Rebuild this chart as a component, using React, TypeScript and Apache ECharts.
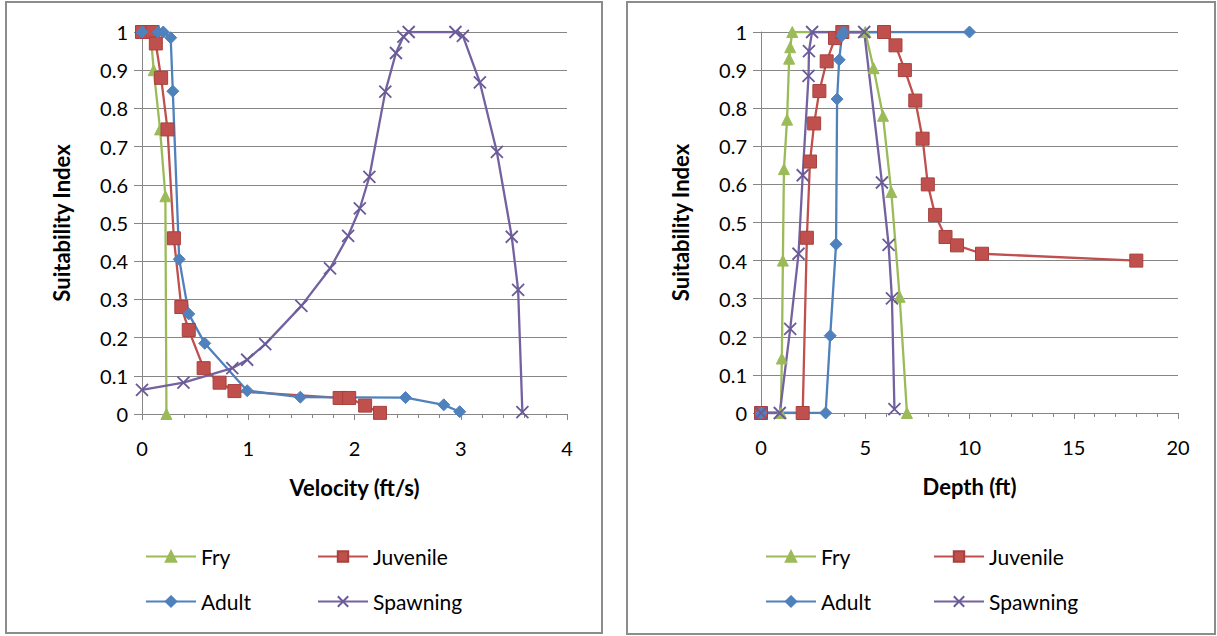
import React, { useEffect, useRef } from "react";
import * as echarts from "echarts";

// ---- Velocity chart data [velocity ft/s, suitability] ----
const velFry = [[0, 1], [0.08, 1], [0.11, 0.9], [0.17, 0.745], [0.22, 0.57], [0.23, 0]];
const velJuvenile = [[0, 1], [0.1, 1], [0.13, 0.97], [0.18, 0.88], [0.24, 0.745], [0.3, 0.46], [0.37, 0.28], [0.44, 0.22], [0.58, 0.12], [0.73, 0.082], [0.87, 0.06], [1.86, 0.042], [1.95, 0.042], [2.1, 0.022], [2.24, 0.003]];
const velAdult = [[0, 1], [0.15, 1], [0.2, 1], [0.27, 0.985], [0.29, 0.845], [0.35, 0.405], [0.44, 0.262], [0.59, 0.185], [0.99, 0.061], [1.49, 0.044], [2.48, 0.043], [2.84, 0.024], [2.99, 0.006]];
const velSpawning = [[0, 0.063], [0.39, 0.082], [0.85, 0.12], [0.99, 0.142], [1.16, 0.183], [1.5, 0.283], [1.77, 0.381], [1.94, 0.466], [2.05, 0.538], [2.14, 0.621], [2.29, 0.844], [2.39, 0.945], [2.46, 0.988], [2.51, 1], [2.95, 1], [3.02, 0.99], [3.18, 0.868], [3.34, 0.686], [3.48, 0.464], [3.54, 0.325], [3.58, 0.005]];

// ---- Depth chart data [depth ft, suitability] ----
const depFry = [[0, 0], [0.95, 0], [1.0, 0.143], [1.05, 0.4], [1.1, 0.64], [1.25, 0.77], [1.35, 0.93], [1.4, 0.96], [1.5, 1], [5.0, 1], [5.4, 0.905], [5.85, 0.78], [6.25, 0.58], [6.65, 0.305], [7.0, 0]];
const depJuvenile = [[0, 0], [2.0, 0], [2.2, 0.46], [2.35, 0.66], [2.55, 0.76], [2.8, 0.845], [3.15, 0.923], [3.55, 0.984], [3.9, 1], [5.9, 1], [6.45, 0.965], [6.9, 0.9], [7.4, 0.82], [7.75, 0.72], [8.0, 0.6], [8.35, 0.52], [8.85, 0.462], [9.4, 0.44], [10.6, 0.418], [18.0, 0.4]];
const depAdult = [[0, 0], [3.1, 0], [3.32, 0.203], [3.6, 0.443], [3.65, 0.824], [3.75, 0.927], [3.88, 0.99], [3.96, 1], [10, 1]];
const depSpawning = [[0, 0], [0.9, 0], [1.4, 0.221], [1.8, 0.418], [2.0, 0.624], [2.28, 0.885], [2.3, 0.95], [2.45, 1], [4.95, 1], [5.8, 0.605], [6.12, 0.441], [6.28, 0.301], [6.4, 0.01]];

const seriesNames = ["Fry", "Juvenile", "Adult", "Spawning"];
const xTitles = ["Velocity (ft/s)", "Depth (ft)"];
const yTitle = "Suitability Index";

const FONT = "Lato, 'Open Sans', sans-serif";
const GRID_COLOR = "#868686";

const styles: Record<string, any> = {
  Fry: { color: "#9BBB59", symbol: "triangle", symbolSize: 11, border: "#9BBB59" },
  Juvenile: { color: "#C0504D", symbol: "rect", symbolSize: 13, border: "#A8403D" },
  Adult: { color: "#4F81BD", symbol: "diamond", symbolSize: 12, border: "#4F81BD" },
  Spawning: { color: "#7462A0", symbol: "path://M0,0L10,10M10,0L0,10", symbolSize: 12, border: "#6A5A98" },
};

function mkSeries(name: string, data: number[][], idx: number) {
  const s = styles[name];
  return {
    name,
    type: "line",
    xAxisIndex: idx,
    yAxisIndex: idx,
    data,
    symbol: s.symbol,
    symbolSize: s.symbolSize,
    showSymbol: true,
    lineStyle: { color: s.color, width: 2.3 },
    itemStyle: { color: s.color, borderColor: s.border, borderWidth: name === "Spawning" ? 1.8 : 1 },
    emphasis: { disabled: true },
  };
}

function xAxis(idx: number, max: number, interval: number, name: string) {
  return {
    type: "value",
    gridIndex: idx,
    min: 0,
    max,
    interval,
    name,
    nameLocation: "middle",
    nameGap: 62,
    nameTextStyle: { fontFamily: FONT, fontSize: 22, fontWeight: "bold", color: "#000" },
    axisLine: { show: true, lineStyle: { color: GRID_COLOR, width: 1 } },
    axisTick: { show: true, length: 6, lineStyle: { color: GRID_COLOR } },
    minorTick: { show: true, splitNumber: 5, length: 4, lineStyle: { color: GRID_COLOR } },
    splitLine: { show: false },
    axisLabel: { fontFamily: FONT, fontSize: 20, color: "#000", margin: 24 },
  };
}

function yAxis(idx: number) {
  return {
    type: "value",
    gridIndex: idx,
    min: 0,
    max: 1,
    interval: 0.1,
    name: yTitle,
    nameLocation: "middle",
    nameGap: 70,
    nameTextStyle: { fontFamily: FONT, fontSize: 22, fontWeight: "bold", color: "#000" },
    axisLine: { show: true, lineStyle: { color: GRID_COLOR, width: 1 } },
    axisTick: { show: true, length: 8, lineStyle: { color: GRID_COLOR } },
    splitLine: { show: true, lineStyle: { color: GRID_COLOR, width: 1 } },
    axisLabel: {
      fontFamily: FONT,
      fontSize: 20,
      color: "#000",
      margin: 14,
      formatter: (v: number) => String(Math.round(v * 10) / 10),
    },
  };
}

function legend(name: string, left: number, top: number) {
  return {
    data: [name],
    left,
    top,
    selectedMode: false,
    itemWidth: 50,
    itemHeight: 13,
    textStyle: { fontFamily: FONT, fontSize: 21, color: "#000" },
  };
}

export default function App() {
  const ref = useRef<HTMLDivElement>(null);
  useEffect(() => {
    if (!ref.current) return;
    const chart = echarts.init(ref.current, null, { renderer: "svg" });
    const velData = [velFry, velJuvenile, velAdult, velSpawning];
    const depData = [depFry, depJuvenile, depAdult, depSpawning];
    const option = {
      animation: false,
      backgroundColor: "#fff",
      grid: [
        { left: 142, top: 32, width: 425, height: 382 },
        { left: 761, top: 32, width: 417, height: 381 },
      ],
      xAxis: [xAxis(0, 4, 1, xTitles[0]), xAxis(1, 20, 5, xTitles[1])],
      yAxis: [yAxis(0), yAxis(1)],
      legend: [
        legend("Fry", 140, 541),
        legend("Juvenile", 312, 541),
        legend("Adult", 140, 586),
        legend("Spawning", 312, 586),
        legend("Fry", 760, 541),
        legend("Juvenile", 928, 541),
        legend("Adult", 760, 586),
        legend("Spawning", 928, 586),
      ],
      graphic: [
        { type: "rect", shape: { x: 6, y: 2, width: 596, height: 631 }, style: { fill: "none", stroke: "#8c8c8c", lineWidth: 2 }, silent: true },
        { type: "rect", shape: { x: 627, y: 2, width: 588, height: 632 }, style: { fill: "none", stroke: "#8c8c8c", lineWidth: 2 }, silent: true },
      ],
      series: [
        ...seriesNames.map((n, i) => mkSeries(n, velData[i], 0)),
        ...seriesNames.map((n, i) => mkSeries(n, depData[i], 1)),
      ],
    };
    chart.setOption(option as any);
    return () => chart.dispose();
  }, []);
  return (
    <div
      ref={ref}
      style={{ position: "absolute", left: 0, top: 0, width: 1217, height: 636, background: "#fff" }}
    />
  );
}
